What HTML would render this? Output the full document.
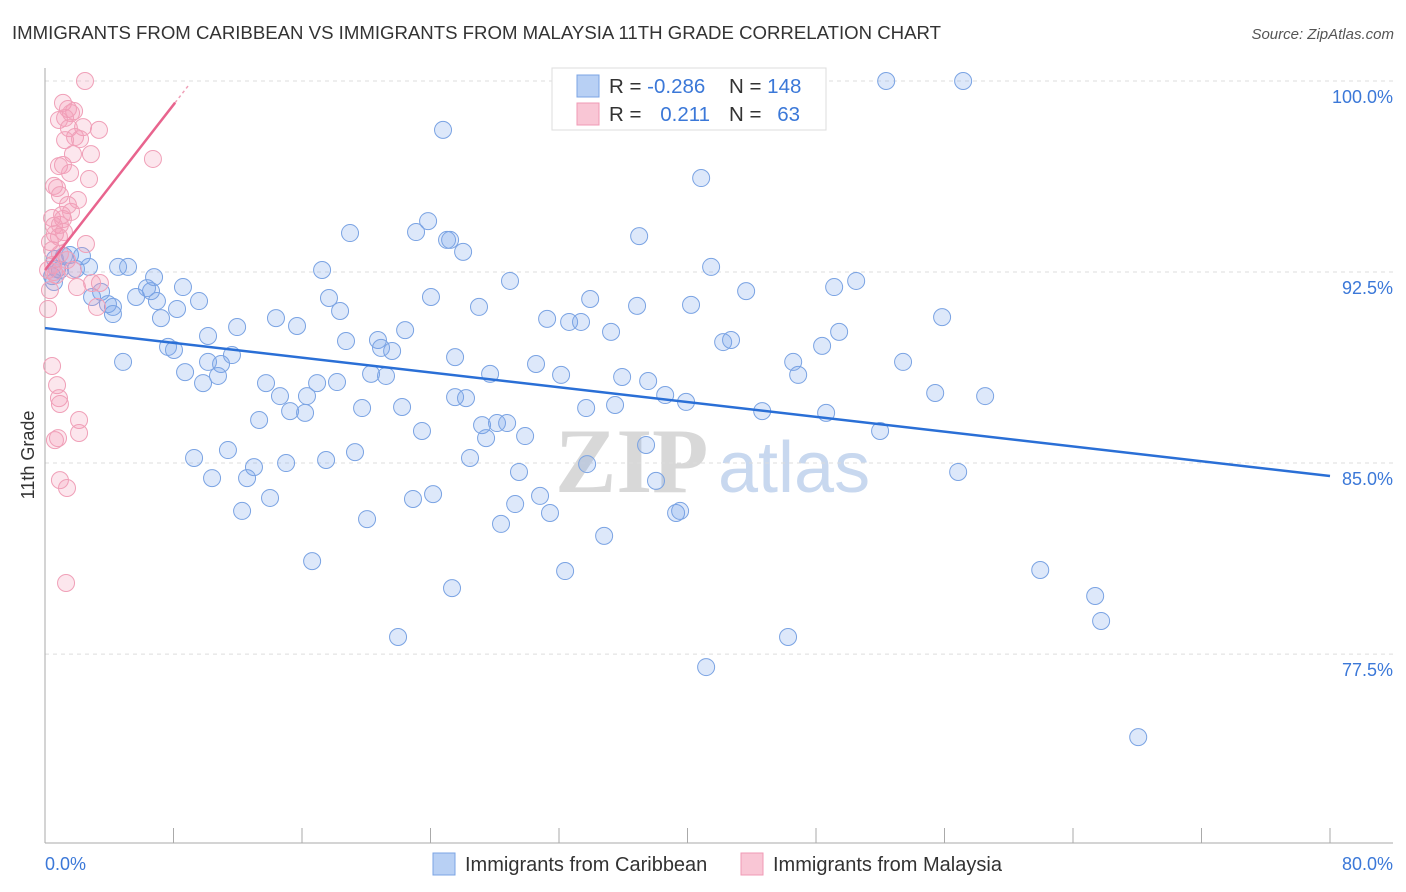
<!DOCTYPE html>
<html><head><meta charset="utf-8"><style>
body{margin:0;background:#fff;font-family:"Liberation Sans",sans-serif;}
svg{display:block}
</style></head><body>
<svg id="chart" width="1406" height="892" xmlns="http://www.w3.org/2000/svg">
<text x="12" y="39" font-size="18.5" fill="#333" textLength="929" lengthAdjust="spacingAndGlyphs">IMMIGRANTS FROM CARIBBEAN VS IMMIGRANTS FROM MALAYSIA 11TH GRADE CORRELATION CHART</text>
<text x="1394" y="39" font-size="15" fill="#555" font-style="italic" text-anchor="end">Source: ZipAtlas.com</text>
<g>
<text x="555" y="492" font-size="92" font-family="Liberation Serif,serif" fill="#d8d8d8" font-weight="bold">ZIP</text>
<text x="718" y="492" font-size="72" fill="#c8d8ef">atlas</text>
</g>
<g id="grid"></g>
<g id="axes"></g>
<g id="points"></g>
<g id="trends"></g>
<text transform="translate(34,455) rotate(-90)" font-size="18" fill="#333" text-anchor="middle">11th Grade</text>
<g>
<rect x="552" y="68" width="274" height="62" fill="#fff" stroke="#ddd"/>
<rect x="577" y="75" width="22" height="22" fill="#b8d0f4" stroke="#7ba4e4"/>
<rect x="577" y="103" width="22" height="22" fill="#f9c6d5" stroke="#f09ab5"/>
<text x="609" y="93" font-size="20.5" fill="#333">R = <tspan fill="#3b78d8">-0.286</tspan></text>
<text x="729" y="93" font-size="20.5" fill="#333">N = <tspan fill="#3b78d8">148</tspan></text>
<text x="609" y="121" font-size="20.5" fill="#333">R = </text>
<text x="710" y="121" font-size="20.5" fill="#3b78d8" text-anchor="end">0.211</text>
<text x="729" y="121" font-size="20.5" fill="#333">N = </text>
<text x="800" y="121" font-size="20.5" fill="#3b78d8" text-anchor="end">63</text>
</g>
<g>
<rect x="433" y="853" width="22" height="22" fill="#b8d0f4" stroke="#7ba4e4"/>
<text x="465" y="871" font-size="20" fill="#333">Immigrants from Caribbean</text>
<rect x="741" y="853" width="22" height="22" fill="#f9c6d5" stroke="#f09ab5"/>
<text x="773" y="871" font-size="20" fill="#333">Immigrants from Malaysia</text>
</g>
</svg>
<script>
const xTickValues=[0,8,16,24,32,40,48,56,64,72,80];
const yTickValues=[100,92.5,85,77.5];
const yTickLabels=["100.0%","92.5%","85.0%","77.5%"];
const xEndLabels=["0.0%","80.0%"];
const caribX=[52.37,57.16,24.78,40.85,23.85,18.99,23.10,25.03,26.03,36.99,41.47,17.25,28.95,33.94,36.86,40.22,43.65,49.13,50.50,24.03,27.02,17.68,18.37,14.38,15.69,11.96,10.15,22.42,20.73,20.92,21.61,18.74,31.26,32.63,33.37,35.24,42.22,42.71,48.38,49.44,55.85,25.53,30.57,32.13,27.71,35.93,37.55,38.61,39.91,46.58,46.89,53.42,55.42,58.53,44.65,48.63,51.99,20.30,21.23,25.53,26.21,27.21,28.14,28.77,27.46,29.89,23.47,22.23,19.74,33.69,35.49,37.42,33.75,26.46,29.51,19.30,17.50,15.01,13.01,12.58,11.39,10.40,9.28,12.27,14.01,22.91,24.16,29.27,30.82,31.44,28.39,20.05,34.81,38.04,39.29,39.54,56.85,16.63,25.34,32.38,21.98,46.26,41.16,61.96,65.38,65.75,68.06,15.26,16.19,13.33,14.63,16.31,16.94,18.18,13.76,10.96,10.77,8.72,9.84,11.64,10.15,7.66,8.03,7.22,6.97,5.67,6.60,6.35,6.79,8.59,9.59,8.22,4.23,3.92,3.49,2.93,2.74,4.55,5.17,1.93,1.56,1.18,0.62,0.75,0.44,0.56,2.30,4.86,4.23,0.93,25.22];
const caribY=[100.0,100.0,98.08,96.19,94.50,94.03,94.07,93.76,93.29,93.91,92.70,92.58,92.15,91.44,91.17,91.21,91.75,91.91,92.15,91.52,91.13,91.48,90.97,90.69,90.38,90.34,89.99,90.22,89.83,89.52,89.40,89.79,90.66,90.54,90.54,90.15,89.75,89.83,89.60,90.15,90.73,89.16,88.89,88.46,88.50,88.38,88.22,87.67,87.40,88.97,88.46,88.97,87.75,87.63,87.04,86.97,86.26,88.50,88.42,87.59,87.55,86.49,86.57,86.57,85.98,86.06,86.26,87.20,87.16,87.16,87.28,85.71,84.96,85.20,84.65,85.43,85.12,85.00,84.84,84.41,85.51,84.41,85.20,83.12,83.63,83.59,83.78,83.39,83.71,83.04,82.61,82.80,82.14,84.30,83.04,83.12,84.65,81.15,80.09,80.76,78.17,78.17,76.99,80.80,79.78,78.80,74.24,87.04,86.97,86.69,87.63,87.63,88.14,88.18,88.14,88.89,88.42,88.57,88.14,89.24,88.97,89.56,89.44,90.69,91.36,91.52,91.75,91.87,92.30,91.91,91.36,91.05,91.13,91.24,91.72,91.52,92.70,92.70,92.70,92.62,93.17,93.13,93.01,92.62,92.34,92.11,93.13,88.97,90.85,92.58,93.76];
const malayX=[2.49,1.12,1.43,1.81,1.62,1.25,0.87,2.37,3.36,1.49,1.87,2.18,1.25,1.74,2.86,6.72,0.87,1.12,1.56,2.74,0.56,0.75,1.62,0.44,1.12,0.56,0.93,0.62,1.18,0.87,0.31,2.55,0.44,0.93,1.37,0.50,1.74,0.19,0.56,3.42,1.99,0.31,3.24,0.19,0.44,0.75,0.87,0.93,2.12,2.12,0.62,0.81,0.93,1.37,1.31,2.93,0.68,0.93,2.05,1.43,1.06];
const malayY=[100.0,99.14,98.90,98.82,98.74,98.55,98.47,98.19,98.08,98.15,97.80,97.72,97.68,97.13,97.13,96.94,96.66,96.70,96.39,96.15,95.88,95.80,94.86,94.62,94.58,94.31,94.35,93.99,94.07,93.88,93.68,93.60,93.36,93.21,92.97,92.78,92.58,92.58,92.50,92.07,91.91,91.79,91.13,91.05,88.81,88.06,87.55,87.32,86.69,86.18,85.90,85.98,84.33,84.02,80.29,92.07,92.38,95.52,95.33,95.13,94.74];
const caribTrend=[90.30,84.49];   // value at x=0 and x=80
const malayTrend=[92.58,0.811];   // intercept, slope per %
const malaySolidEnd=8.1, malayDashEnd=9.0;

const NS="http://www.w3.org/2000/svg";
const X=v=>45+v*16.0625;
const Y=v=>81+(100-v)*25.47;
function mk(tag,attrs,parent){const e=document.createElementNS(NS,tag);for(const k in attrs)e.setAttribute(k,attrs[k]);parent.appendChild(e);return e;}
const grid=document.getElementById('grid'),axes=document.getElementById('axes'),pts=document.getElementById('points'),tr=document.getElementById('trends');
yTickValues.forEach((v,i)=>{
  const l=mk('line',{x1:45,x2:1393,y1:Y(v),y2:Y(v),stroke:'#ddd','stroke-dasharray':'4,4'},grid);
  
  
  const t=mk('text',{x:1393,y:Y(v)+22,'font-size':18,fill:'#3b78d8','text-anchor':'end'},grid);
  t.textContent=yTickLabels[i];
  
  
});
const ax1=mk('line',{x1:45,x2:45,y1:68,y2:843,stroke:'#aaa'},axes);


const ax2=mk('line',{x1:45,x2:1393,y1:843,y2:843,stroke:'#aaa'},axes);


xTickValues.forEach(v=>{
  const t=mk('line',{x1:X(v),x2:X(v),y1:828,y2:843,stroke:'#aaa'},axes);
  
  
});
const xl0=mk('text',{x:45,y:870,'font-size':18,fill:'#3b78d8'},axes);xl0.textContent=xEndLabels[0];


const xl1=mk('text',{x:1393,y:870,'font-size':18,fill:'#3b78d8','text-anchor':'end'},axes);xl1.textContent=xEndLabels[1];


caribX.forEach((x,i)=>{
  const c=mk('circle',{cx:X(x),cy:Y(caribY[i]),r:8.5,fill:'rgba(120,165,235,0.25)',stroke:'#7aa3e3','stroke-width':1},pts);
  
  
});
malayX.forEach((x,i)=>{
  const c=mk('circle',{cx:X(x),cy:Y(malayY[i]),r:8.5,fill:'rgba(245,155,185,0.25)',stroke:'#f0a0b8','stroke-width':1},pts);
  
  
});
const bl=mk('line',{x1:X(0),y1:Y(caribTrend[0]),x2:X(80),y2:Y(caribTrend[1]),stroke:'#2a6fd6','stroke-width':2.5},tr);


const mt=x=>malayTrend[0]+malayTrend[1]*x;
const pl=mk('line',{x1:X(0),y1:Y(mt(0)),x2:X(malaySolidEnd),y2:Y(mt(malaySolidEnd)),stroke:'#e8648e','stroke-width':2.5},tr);


const pd=mk('line',{x1:X(malaySolidEnd),y1:Y(mt(malaySolidEnd)),x2:X(malayDashEnd),y2:Y(mt(malayDashEnd)),stroke:'#f0a0b8','stroke-width':1.5,'stroke-dasharray':'3,3'},tr);


</script>
</body></html>
